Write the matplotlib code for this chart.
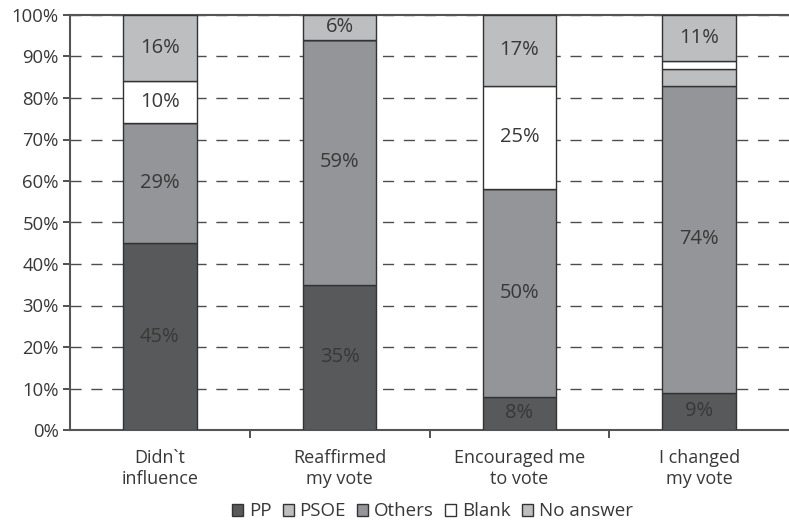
import matplotlib
matplotlib.use("Agg")
import matplotlib.pyplot as plt
import numpy as np
from matplotlib.patches import Patch

plt.rcParams.update({
    "font.family": ["Open Sans", "DejaVu Sans"],
    "font.size": 13.3,
    "text.color": "#383838",
    "xtick.color": "#383838",
    "ytick.color": "#383838",
})

categories = ["Didn`t\ninfluence", "Reaffirmed\nmy vote", "Encouraged me\nto vote", "I changed\nmy vote"]
pp = [45, 35, 8, 9]
others = [29, 59, 50, 74]
psoe = [0, 0, 0, 4]
blank = [10, 0, 25, 2]
no_answer = [16, 6, 17, 11]

# stacking order as drawn (bottom to top)
series = [
    ("PP", pp, "#58595b"),
    ("Others", others, "#939598"),
    ("PSOE", psoe, "#bcbec0"),
    ("Blank", blank, "#ffffff"),
    ("No answer", no_answer, "#bcbec0"),
]
legend_order = ["PP", "PSOE", "Others", "Blank", "No answer"]

fig = plt.figure(figsize=(7.89, 5.24), dpi=100)
ax = fig.add_axes([70 / 789, 94 / 524, 719 / 789, 415 / 524])

x = np.arange(len(categories))
bottom = np.zeros(len(categories))
handles = {}
for name, vals, color in series:
    vals = np.array(vals, dtype=float)
    ax.bar(x, vals, 0.41, bottom=bottom, color=color,
           edgecolor="#333333", linewidth=1.0, zorder=3)
    handles[name] = Patch(facecolor=color, edgecolor="#333333", linewidth=1.0)
    for xi, v, b in zip(x, vals, bottom):
        if v >= 5:
            ax.text(xi, b + v / 2, f"{v:.0f}%", ha="center", va="center",
                    fontsize=14.5, color="#383838", zorder=4)
    bottom += vals

ax.set_xlim(-0.5, 3.5)
ax.set_ylim(0, 100)
ax.set_yticks(np.arange(0, 101, 10))
ax.set_yticklabels([f"{t}%" for t in range(0, 101, 10)])
ax.yaxis.grid(True, linestyle=(0, (8, 7)), color="#4d4d4d", linewidth=1.0, zorder=0)
ax.set_axisbelow(True)

ax.set_xticks(x)
ax.set_xticklabels(categories, fontsize=13, linespacing=1.2)
ax.tick_params(axis="x", length=0, pad=14)
ax.set_xticks([0.5, 1.5, 2.5], minor=True)
ax.tick_params(axis="x", which="minor", length=6, width=1.2, color="#333333")
ax.tick_params(axis="y", length=5, width=1.2, color="#333333", pad=3)

for side in ["left", "bottom", "top"]:
    ax.spines[side].set_color("#555555")
    ax.spines[side].set_linewidth(1.5)
ax.spines["right"].set_visible(False)

fig.legend([handles[n] for n in legend_order], legend_order, loc="center",
           bbox_to_anchor=(0.548, 0.024), ncol=5, frameon=False,
           handlelength=0.6, handleheight=0.6, handletextpad=0.3,
           columnspacing=0.6, fontsize=13.5)

fig.savefig("out.png", dpi=100)
